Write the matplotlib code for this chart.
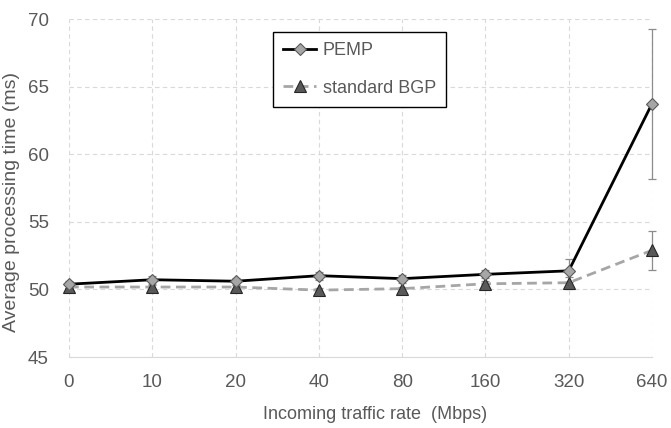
import matplotlib
matplotlib.use("Agg")
import matplotlib.pyplot as plt

categories = ["0", "10", "20", "40", "80", "160", "320", "640"]
pemp = [50.39, 50.72, 50.61, 51.02, 50.80, 51.12, 51.38, 63.75]
pemp_err = [0.25, 0.3, 0.25, 0.3, 0.3, 0.3, 0.85, 5.55]
bgp = [50.18, 50.18, 50.18, 49.95, 50.06, 50.42, 50.50, 52.90]
bgp_err = [0.15, 0.15, 0.15, 0.15, 0.15, 0.2, 0.45, 1.45]
yticks = [45, 50, 55, 60, 65, 70]

font = ["Liberation Sans Narrow", "Liberation Sans", "DejaVu Sans"]
plt.rcParams["font.family"] = font

fig = plt.figure(figsize=(6.71, 4.28), dpi=100)
ax = fig.add_axes([69/671, 1-357/428, (652-69)/671, (357-19.3)/428])

x = list(range(len(categories)))
grey_txt = "#595959"

for vals, errs in ((bgp, bgp_err), (pemp, pemp_err)):
    eb = ax.errorbar(x, vals, yerr=errs, fmt="none", ecolor="#8c8c8c", elinewidth=0.9,
                     capsize=3, capthick=0.9, zorder=2)
    for art in eb.lines[1] + eb.lines[2]:
        art.set_clip_on(False)
    for art in eb.lines[2]:
        art.set_clip_on(False)

ax.plot(x, bgp, linestyle=(0, (3.5, 2)), color="#a6a6a6", linewidth=2,
        marker="^", markersize=8, markerfacecolor="#595959",
        markeredgecolor="#262626", markeredgewidth=0.8, label="standard BGP",
        zorder=3, clip_on=False)
ax.plot(x, pemp, linestyle="-", color="black", linewidth=2,
        marker="D", markersize=6, markerfacecolor="#a6a6a6",
        markeredgecolor="#595959", markeredgewidth=0.8, label="PEMP",
        zorder=4, clip_on=False)

ax.set_xlim(0, len(categories) - 1)
ax.set_ylim(45, 70)
ax.set_xticks(x)
ax.set_xticklabels(categories)
ax.set_yticks(yticks)
ax.tick_params(axis="both", length=0, labelsize=13.5, labelcolor=grey_txt)
ax.tick_params(axis="x", pad=12.5)
ax.tick_params(axis="y", pad=14.4)

ax.grid(True, color="#d9d9d9", linestyle=(0, (4, 3)), linewidth=0.8)
ax.set_axisbelow(True)
for s in ["top", "right", "left"]:
    ax.spines[s].set_visible(False)
ax.spines["bottom"].set_color("#d9d9d9")
ax.spines["bottom"].set_linewidth(0.8)

ax.set_xlabel("Incoming traffic rate  (Mbps)", fontsize=13, color=grey_txt)
ax.xaxis.set_label_coords((375-69)/583, -(406-357)/337.7)
ax.set_ylabel("Average processing time (ms)", fontsize=14, color=grey_txt)
ax.yaxis.set_label_coords((20-69)/583, 1-(201.7-19.3)/337.7)

handles, labels = ax.get_legend_handles_labels()
leg = ax.legend(handles[::-1], labels[::-1], loc="upper left",
                bbox_to_anchor=(273/671, 1-32/428), bbox_transform=fig.transFigure,
                frameon=True, fancybox=False, edgecolor="black", framealpha=1,
                prop={"size": 13}, labelcolor=grey_txt,
                handlelength=1.85, handletextpad=0.35, labelspacing=1.15,
                borderpad=0.55, borderaxespad=0)
leg.get_frame().set_linewidth(1.0)

fig.savefig("out.png", dpi=100)
